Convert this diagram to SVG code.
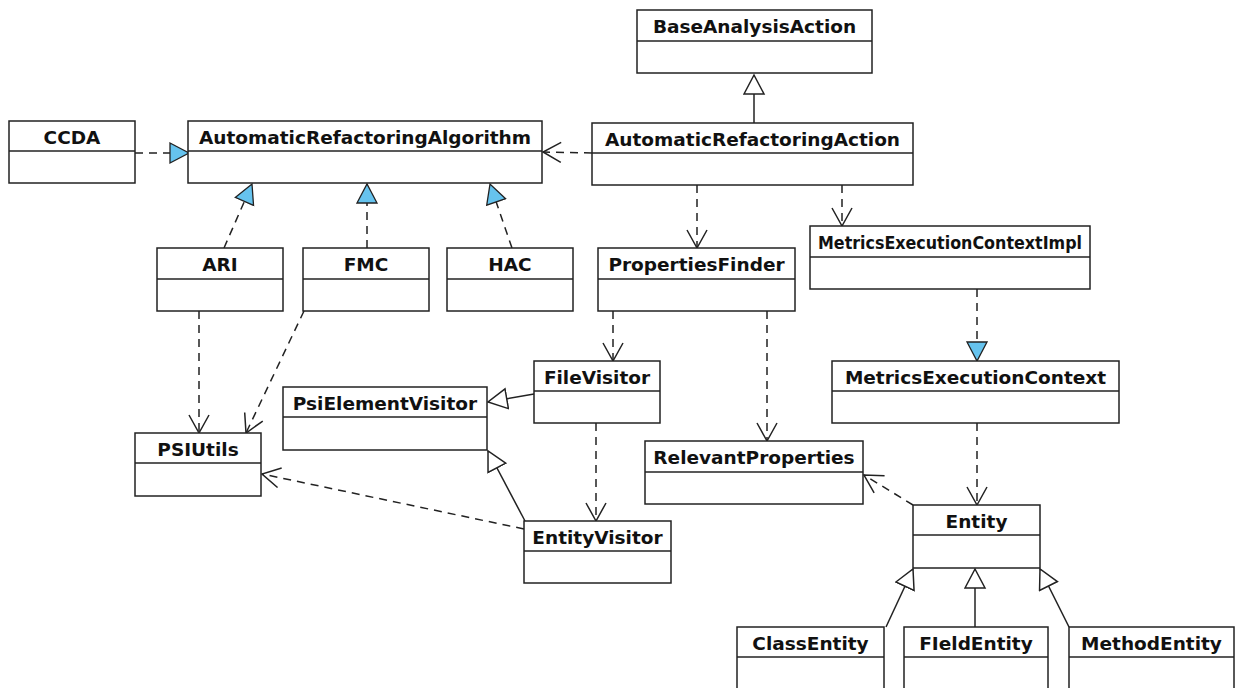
<svg xmlns="http://www.w3.org/2000/svg" width="1240" height="688" viewBox="0 0 1240 688">
<style>
.box rect{fill:#fff;stroke:#222;stroke-width:1.5}
.box line{stroke:#222;stroke-width:1.5}
.box text{font-family:"DejaVu Sans","Liberation Sans",Arial,sans-serif;font-weight:bold;font-size:18.5px;fill:#111;text-anchor:middle}
.dep{fill:none;stroke:#222;stroke-width:1.5;stroke-dasharray:8 6;marker-end:url(#open)}
.real{fill:none;stroke:#222;stroke-width:1.5;stroke-dasharray:8 6;marker-end:url(#blue)}
.gen{fill:none;stroke:#222;stroke-width:1.5;marker-end:url(#hollow)}
</style>
<defs>
<marker id="open" markerUnits="userSpaceOnUse" markerWidth="22" markerHeight="24" refX="19" refY="11" orient="auto" viewBox="0 0 22 24">
<path d="M1,1 L19,11 L1,21" fill="none" stroke="#222" stroke-width="1.5"/>
</marker>
<marker id="hollow" markerUnits="userSpaceOnUse" markerWidth="24" markerHeight="24" refX="20" refY="11" orient="auto" viewBox="0 0 24 24">
<path d="M1,1 L20,11 L1,21 Z" fill="#fff" stroke="#222" stroke-width="1.5"/>
</marker>
<marker id="blue" markerUnits="userSpaceOnUse" markerWidth="24" markerHeight="24" refX="20" refY="11" orient="auto" viewBox="0 0 24 24">
<path d="M1,1 L20,11 L1,21 Z" fill="#66c3ee" stroke="#222" stroke-width="1.3"/>
</marker>
</defs>
<rect width="1240" height="688" fill="#fff"/>
<g id="connectors">
<path class="gen" d="M754,123 L754,75"/>
<path class="real" d="M135,153 L189,153"/>
<path class="dep" d="M592,153 L543,152"/>
<path class="real" d="M224,248 L252,184"/>
<path class="real" d="M367,248 L367,184"/>
<path class="real" d="M512,248 L490,184"/>
<path class="dep" d="M697,185 L697,248"/>
<path class="dep" d="M842,185 L842,226"/>
<path class="real" d="M977,289 L977,361"/>
<path class="dep" d="M199,311 L199,433"/>
<path class="dep" d="M304,311 L246,433"/>
<path class="dep" d="M613,311 L613,361"/>
<path class="dep" d="M767,311 L767,441"/>
<path class="gen" d="M534,394 L488,402"/>
<path class="dep" d="M596,423 L596,521"/>
<path class="gen" d="M525,521 L488,451"/>
<path class="dep" d="M524,529 L262,474"/>
<path class="dep" d="M977,423 L977,505"/>
<path class="dep" d="M913,505 L864,475"/>
<path class="gen" d="M886,627 L913,569"/>
<path class="gen" d="M975,627 L975,569"/>
<path class="gen" d="M1069,627 L1040,569"/>
</g>
<g id="BaseAnalysisAction" class="box"><rect x="637" y="10" width="235" height="63"/><line x1="637" y1="41" x2="872" y2="41"/><text x="754.5" y="33">BaseAnalysisAction</text></g>
<g id="AutomaticRefactoringAction" class="box"><rect x="592" y="123" width="321" height="62"/><line x1="592" y1="153" x2="913" y2="153"/><text x="752.5" y="146">AutomaticRefactoringAction</text></g>
<g id="AutomaticRefactoringAlgorithm" class="box"><rect x="188" y="121" width="354" height="62"/><line x1="188" y1="151" x2="542" y2="151"/><text x="365" y="144">AutomaticRefactoringAlgorithm</text></g>
<g id="CCDA" class="box"><rect x="9" y="121" width="126" height="62"/><line x1="9" y1="151" x2="135" y2="151"/><text x="72" y="144">CCDA</text></g>
<g id="ARI" class="box"><rect x="157" y="248" width="126" height="63"/><line x1="157" y1="279" x2="283" y2="279"/><text x="220" y="271">ARI</text></g>
<g id="FMC" class="box"><rect x="303" y="248" width="126" height="63"/><line x1="303" y1="279" x2="429" y2="279"/><text x="366" y="271">FMC</text></g>
<g id="HAC" class="box"><rect x="447" y="248" width="126" height="63"/><line x1="447" y1="279" x2="573" y2="279"/><text x="510" y="271">HAC</text></g>
<g id="PropertiesFinder" class="box"><rect x="598" y="248" width="197" height="63"/><line x1="598" y1="279" x2="795" y2="279"/><text x="696.5" y="271">PropertiesFinder</text></g>
<g id="MetricsExecutionContextImpl" class="box"><rect x="810" y="226" width="280" height="63"/><line x1="810" y1="257" x2="1090" y2="257"/><text x="950" y="249" textLength="264" lengthAdjust="spacingAndGlyphs">MetricsExecutionContextImpl</text></g>
<g id="FileVisitor" class="box"><rect x="534" y="361" width="126" height="62"/><line x1="534" y1="391" x2="660" y2="391"/><text x="597" y="384">FileVisitor</text></g>
<g id="PsiElementVisitor" class="box"><rect x="283" y="387" width="204" height="63"/><line x1="283" y1="417" x2="487" y2="417"/><text x="385" y="410">PsiElementVisitor</text></g>
<g id="PSIUtils" class="box"><rect x="135" y="433" width="126" height="63"/><line x1="135" y1="463" x2="261" y2="463"/><text x="198" y="456">PSIUtils</text></g>
<g id="MetricsExecutionContext" class="box"><rect x="832" y="361" width="287" height="62"/><line x1="832" y1="391" x2="1119" y2="391"/><text x="975.5" y="384">MetricsExecutionContext</text></g>
<g id="RelevantProperties" class="box"><rect x="645" y="441" width="218" height="63"/><line x1="645" y1="472" x2="863" y2="472"/><text x="754" y="464">RelevantProperties</text></g>
<g id="EntityVisitor" class="box"><rect x="524" y="521" width="147" height="62"/><line x1="524" y1="551" x2="671" y2="551"/><text x="597.5" y="544">EntityVisitor</text></g>
<g id="Entity" class="box"><rect x="913" y="505" width="127" height="63"/><line x1="913" y1="535" x2="1040" y2="535"/><text x="976.5" y="528">Entity</text></g>
<g id="ClassEntity" class="box"><rect x="737" y="627" width="147" height="80"/><line x1="737" y1="657" x2="884" y2="657"/><text x="810.5" y="650">ClassEntity</text></g>
<g id="FIeldEntity" class="box"><rect x="904" y="627" width="144" height="80"/><line x1="904" y1="657" x2="1048" y2="657"/><text x="976" y="650">FIeldEntity</text></g>
<g id="MethodEntity" class="box"><rect x="1069" y="627" width="165" height="80"/><line x1="1069" y1="657" x2="1234" y2="657"/><text x="1151.5" y="650">MethodEntity</text></g>
</svg>
